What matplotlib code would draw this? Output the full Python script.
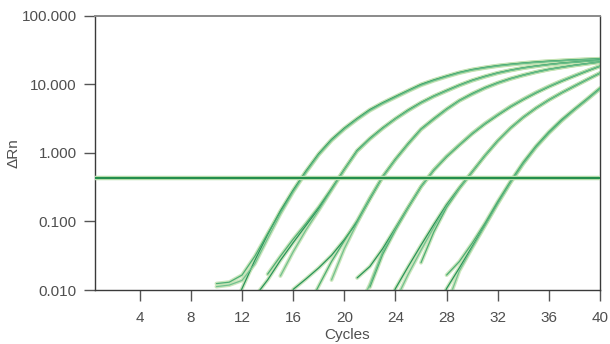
import numpy as np
import matplotlib
matplotlib.use("Agg")
import matplotlib.pyplot as plt

plt.rcParams['font.family'] = ['Liberation Sans', 'DejaVu Sans']

nan = None

# ---- data (ΔRn per cycle, 3 replicates per dilution) ----
g1_cycles = list(range(10, 41))
g1_r1 = [nan, 0.004, 0.0105, 0.027, 0.064, 0.142, 0.285, 0.54, 0.97, 1.56, 2.28, 3.15, 4.25, 5.35, 6.6, 8.1,
         9.9, 11.5, 13.1, 14.8, 16.3, 17.5, 18.6, 19.5, 20.3, 21.0, 21.6, 22.1, 22.6, 23.0, 23.4]
g1_r2 = [0.0124, 0.013, 0.0165, 0.031, 0.066, 0.138, 0.278, 0.53, 0.95, 1.53, 2.24, 3.1, 4.2, 5.3, 6.5, 8.0,
         9.8, 11.4, 13.0, 14.7, 16.2, 17.4, 18.5, 19.4, 20.2, 20.9, 21.5, 22.0, 22.5, 22.9, 23.3]
g1_r3 = [0.0112, 0.0118, 0.0138, 0.024, 0.056, 0.128, 0.268, 0.515, 0.93, 1.5, 2.2, 3.05, 4.1, 5.2, 6.4, 7.9,
         9.6, 11.2, 12.8, 14.5, 16.0, 17.2, 18.3, 19.2, 20.0, 20.7, 21.3, 21.8, 22.3, 22.7, 23.1]

g2_cycles = list(range(13, 41))
g2_r1 = [0.008, 0.014, 0.027, 0.049, 0.087, 0.155, 0.295, 0.57, 1.08, 1.62, 2.3, 3.15, 4.2, 5.4, 6.7, 8.1,
         9.7, 11.4, 13.0, 14.6, 16.0, 17.3, 18.4, 19.4, 20.3, 21.0, 21.7, 22.3]
g2_r2 = [nan, 0.017, 0.031, 0.055, 0.093, 0.162, 0.30, 0.575, 1.06, 1.6, 2.28, 3.12, 4.15, 5.35, 6.65, 8.0,
         9.6, 11.3, 12.9, 14.5, 15.9, 17.2, 18.3, 19.3, 20.2, 20.9, 21.6, 22.2]
g2_r3 = [nan, nan, 0.016, 0.036, 0.075, 0.145, 0.285, 0.56, 1.05, 1.58, 2.25, 3.1, 4.1, 5.3, 6.6, 7.95,
         9.55, 11.2, 12.8, 14.4, 15.8, 17.1, 18.2, 19.2, 20.1, 20.8, 21.5, 22.1]

g3_cycles = list(range(15, 41))
g3_r1 = [nan, 0.0102, 0.0145, 0.021, 0.032, 0.054, 0.098, 0.21, 0.445, 0.8, 1.35, 2.2, 3.1, 4.3, 5.75, 7.2,
         8.8, 10.4, 12.0, 13.5, 15.0, 16.4, 17.6, 18.8, 19.9, 21.0]
g3_r2 = [nan, nan, 0.005, 0.0115, 0.026, 0.052, 0.102, 0.22, 0.45, 0.81, 1.37, 2.22, 3.15, 4.35, 5.8, 7.3,
         8.9, 10.5, 12.1, 13.6, 15.1, 16.5, 17.7, 18.9, 20.0, 21.1]
g3_r3 = [nan, nan, nan, nan, 0.014, 0.04, 0.095, 0.215, 0.44, 0.79, 1.33, 2.17, 3.05, 4.25, 5.7, 7.1,
         8.7, 10.3, 11.9, 13.4, 14.9, 16.3, 17.5, 18.7, 19.8, 20.9]

g4_cycles = list(range(20, 41))
g4_r1 = [nan, 0.015, 0.022, 0.04, 0.08, 0.162, 0.322, 0.56, 0.88, 1.3, 1.9, 2.65, 3.55, 4.7, 6.0, 7.5,
         9.2, 11.1, 13.2, 15.6, 18.3]
g4_r2 = [nan, nan, 0.011, 0.033, 0.075, 0.158, 0.318, 0.555, 0.87, 1.29, 1.88, 2.62, 3.52, 4.65, 5.95, 7.45,
         9.15, 11.0, 13.1, 15.5, 18.2]
g4_r3 = [nan, 0.005, 0.012, 0.036, 0.078, 0.16, 0.32, 0.565, 0.89, 1.31, 1.92, 2.68, 3.6, 4.75, 6.05, 7.6,
         9.3, 11.2, 13.3, 15.7, 18.4]

g5_cycles = list(range(23, 41))
g5_r1 = [0.004, 0.0105, 0.022, 0.045, 0.09, 0.175, 0.31, 0.53, 0.91, 1.5, 2.3, 3.3, 4.5, 5.9, 7.5, 9.4, 11.7, 14.5]
g5_r2 = [nan, nan, nan, 0.025, 0.07, 0.16, 0.3, 0.52, 0.9, 1.48, 2.28, 3.27, 4.45, 5.85, 7.45, 9.3, 11.6, 14.4]
g5_r3 = [nan, 0.007, 0.017, 0.038, 0.082, 0.168, 0.305, 0.525, 0.905, 1.49, 2.29, 3.28, 4.48, 5.88, 7.5, 9.35,
         11.65, 14.5]

g6_cycles = list(range(27, 41))
g6_r1 = [0.004, 0.0105, 0.021, 0.043, 0.088, 0.185, 0.37, 0.7, 1.22, 1.95, 2.95, 4.25, 6.0, 8.6]
g6_r2 = [nan, 0.0165, 0.026, 0.048, 0.094, 0.195, 0.385, 0.73, 1.26, 2.02, 3.05, 4.35, 6.15, 8.8]
g6_r3 = [nan, 0.006, 0.019, 0.041, 0.086, 0.18, 0.365, 0.69, 1.2, 1.92, 2.9, 4.2, 5.95, 8.5]

threshold = 0.43

x_ticks = [4, 8, 12, 16, 20, 24, 28, 32, 36, 40]
y_ticks = [0.01, 0.1, 1, 10, 100]
y_tick_labels = ["0.010", "0.100", "1.000", "10.000", "100.000"]

groups = [
    (g1_cycles, [g1_r1, g1_r2, g1_r3]),
    (g2_cycles, [g2_r1, g2_r2, g2_r3]),
    (g3_cycles, [g3_r1, g3_r2, g3_r3]),
    (g4_cycles, [g4_r1, g4_r2, g4_r3]),
    (g5_cycles, [g5_r1, g5_r2, g5_r3]),
    (g6_cycles, [g6_r1, g6_r2, g6_r3]),
]

# ---- figure ----
fig = plt.figure(figsize=(6.10, 3.44), dpi=100)
ax = fig.add_axes([95 / 610, 1 - 290 / 344, 505 / 610, (290 - 15.5) / 344])

halo = '#c3e2b2'
cores = ['#1f8f55', '#45ab70', '#6cbf8c']

for cyc, reps in groups:
    for r in reps:
        y = np.array(r, dtype=float)
        ax.plot(cyc, y, color=halo, lw=2.8, alpha=0.85, solid_capstyle='round',
                solid_joinstyle='round', zorder=2)
    for i, r in enumerate(reps):
        y = np.array(r, dtype=float)
        ax.plot(cyc, y, color=cores[i], lw=0.9, alpha=0.95, solid_capstyle='round',
                solid_joinstyle='round', zorder=3)

ax.axhline(threshold, color='#b5dcaa', lw=3.2, zorder=4)
ax.axhline(threshold, color='#1f8c4b', lw=1.4, zorder=5)

ax.set_yscale('log')
ax.set_xlim(0.5, 40)
ax.set_ylim(0.01, 100)
ax.set_xticks(x_ticks)
ax.set_xticklabels([str(t) for t in x_ticks])
ax.set_yticks(y_ticks)
ax.set_yticklabels(y_tick_labels)
ax.minorticks_off()

text_color = '#4f4f4f'
ax.tick_params(axis='both', direction='out', length=8, width=1, color='#555555',
               labelcolor=text_color, labelsize=11)
ax.tick_params(axis='x', pad=7)
ax.tick_params(axis='y', pad=5)

for side in ['left', 'bottom', 'right']:
    ax.spines[side].set_color('#3a3a3a')
    ax.spines[side].set_linewidth(1.0)
ax.spines['top'].set_color('#8a8a8a')
ax.spines['top'].set_linewidth(1.4)

ax.set_xlabel('Cycles', color=text_color, fontsize=11)
ax.xaxis.label.set_verticalalignment('center')
ax.xaxis.set_label_coords(0.5, -(335 - 290) / 274.5)
ax.set_ylabel('ΔRn', color=text_color, fontsize=11)
ax.yaxis.set_label_coords(-0.147, 0.5)

fig.savefig('out.png', dpi=100)
